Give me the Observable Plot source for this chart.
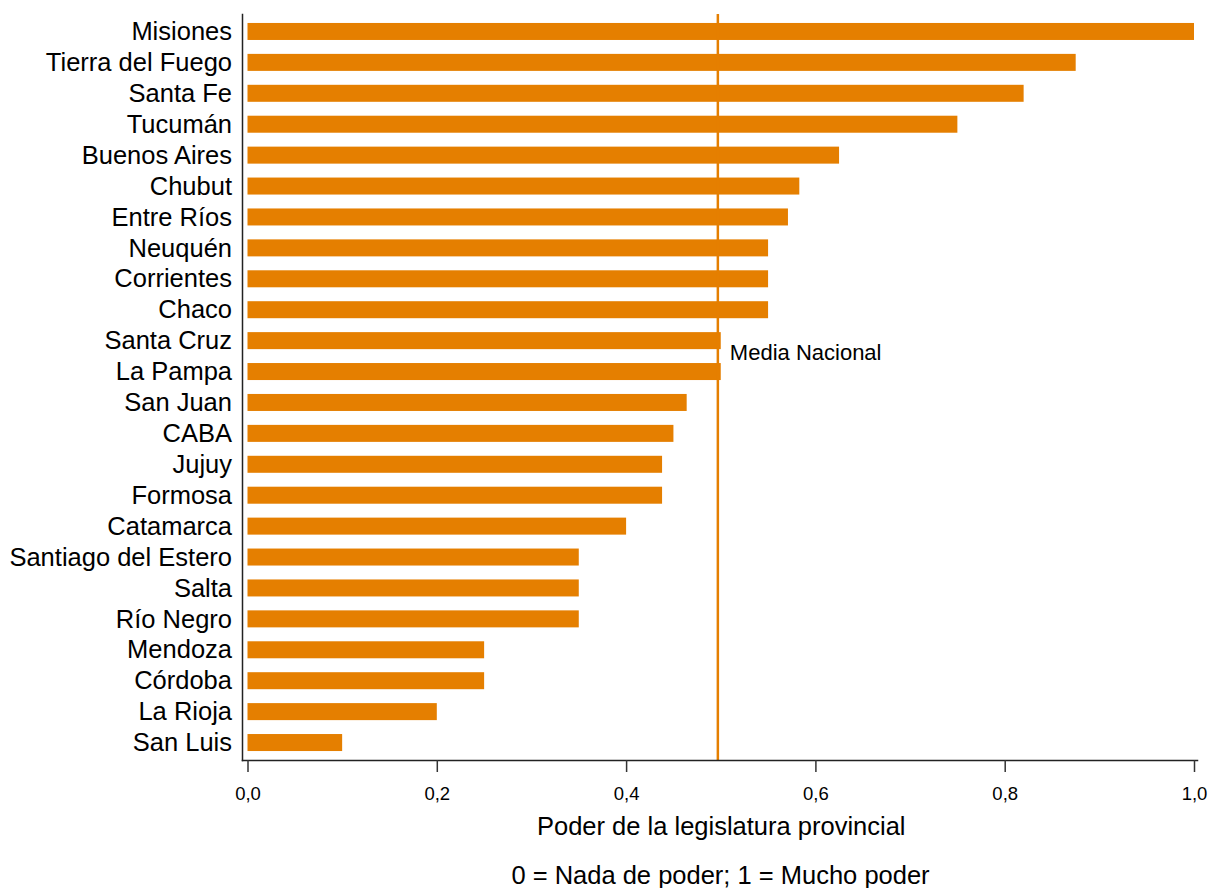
<!DOCTYPE html>
<html>
<head>
<meta charset="utf-8">
<script src="https://cdn.jsdelivr.net/npm/d3@7"></script>
<script src="https://cdn.jsdelivr.net/npm/@observablehq/plot@0.6"></script>
<style>
  html, body { margin: 0; padding: 0; background: white; }
  #chart svg { display: block; }
  #caption {
    font-family: "Liberation Sans", Arial, sans-serif;
    font-size: 25.5px;
    line-height: 25px;
    color: #000;
    width: 947px;
    margin-left: 247px;
    margin-top: 13px;
    text-align: center;
  }
</style>
</head>
<body>
<div id="chart"></div>
<div id="caption"></div>
<script>
const provincias = [
  "Misiones", "Tierra del Fuego", "Santa Fe", "Tucumán", "Buenos Aires",
  "Chubut", "Entre Ríos", "Neuquén", "Corrientes", "Chaco",
  "Santa Cruz", "La Pampa", "San Juan", "CABA", "Jujuy",
  "Formosa", "Catamarca", "Santiago del Estero", "Salta", "Río Negro",
  "Mendoza", "Córdoba", "La Rioja", "San Luis"
];
const poder = [
  1.0, 0.875, 0.82, 0.75, 0.625,
  0.583, 0.571, 0.55, 0.55, 0.55,
  0.5, 0.5, 0.464, 0.45, 0.438,
  0.438, 0.4, 0.35, 0.35, 0.35,
  0.25, 0.25, 0.2, 0.1
];
const xTicks = [0, 0.2, 0.4, 0.6, 0.8, 1.0];
const xLabel = "Poder de la legislatura provincial";
const mediaLabel = "Media Nacional";
const captionText = "0 = Nada de poder; 1 = Mucho poder";

const data = provincias.map((p, i) => ({provincia: p, poder: poder[i]}));
const media = d3.mean(poder);
const fmt = d => d3.format(".1f")(d).replace(".", ",");
const orange = "#e57f00";

const chart = Plot.plot({
  width: 1209,
  height: 850,
  marginTop: 14,
  marginBottom: 90,
  marginLeft: 247.5,
  marginRight: 15,
  style: {fontFamily: "'Liberation Sans', Arial, sans-serif", background: "white", color: "#000"},
  x: {domain: [0, 1]},
  y: {domain: provincias, paddingInner: 0.45, paddingOuter: 0.29, round: false},
  marks: [
    Plot.barX(data, {x: "poder", y: "provincia", fill: orange}),
    Plot.ruleX([media], {stroke: orange, strokeWidth: 2.5}),
    Plot.text([media], {
      x: d => d, y: () => "Santa Cruz", text: () => mediaLabel,
      dx: 12, dy: 12, textAnchor: "start", fontSize: 22, fill: "#000"
    }),
    Plot.frame({anchor: "left", insetLeft: -5.5, stroke: "#222", strokeWidth: 1.5}),
    Plot.frame({anchor: "bottom", insetLeft: -5.5, insetRight: -3, stroke: "#222", strokeWidth: 1.5}),
    Plot.axisY({tickSize: 0, tickPadding: 16, fontSize: 25.5, label: null, fill: "#000"}),
    Plot.axisX({ticks: xTicks, tickFormat: fmt, tickSize: 12, tickPadding: 14, fontSize: 18.5, label: null, stroke: "#333", strokeWidth: 1.5, fill: "#000"}),
    Plot.text([xLabel], {frameAnchor: "bottom", dy: 74, fontSize: 25.5, fill: "#000", text: d => d})
  ]
});
document.getElementById("chart").appendChild(chart);
document.getElementById("caption").textContent = captionText;
</script>
</body>
</html>
